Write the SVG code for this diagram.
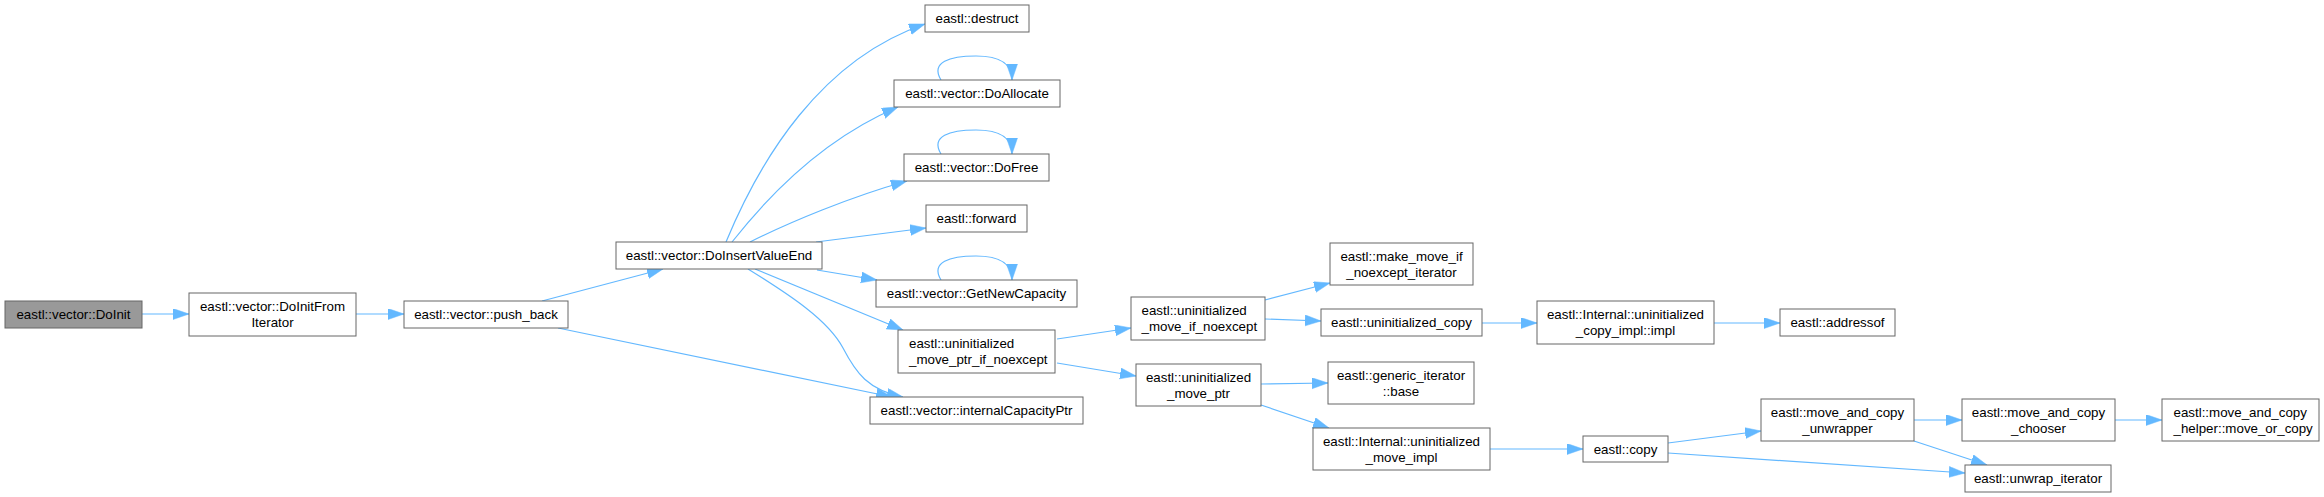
<svg xmlns="http://www.w3.org/2000/svg" width="2324" height="497" viewBox="0 0 2324 497">
<style>
.n rect{fill:#fff;stroke:#666;stroke-width:1}
.n text{font-family:"Liberation Sans",Arial,sans-serif;font-size:13.33px;fill:#000;text-anchor:middle}
.n text.l{text-anchor:start}
#n0 rect{fill:#999}
.e path{fill:none;stroke:#63b8ff;stroke-width:1.2}
</style>
<defs>
<marker id="a" markerUnits="userSpaceOnUse" markerWidth="17" markerHeight="12" refX="16" refY="5.5" orient="auto">
<path d="M0,0 L16,5.5 L0,11 z" fill="#63b8ff" stroke="#63b8ff" stroke-width="0.5"/>
</marker>
</defs>
<rect width="2324" height="497" fill="#fff"/>
<g class="e" id="edges">
<path marker-end="url(#a)" d="M142,314 L189,314"/>
<path marker-end="url(#a)" d="M356,314 L404,314"/>
<path marker-end="url(#a)" d="M542,301 L663,269"/>
<path marker-end="url(#a)" d="M558,328 L892,397"/>
<path marker-end="url(#a)" d="M748,269 C790,295 828,320 843,348 C856,373 868,390 903,397"/>
<path marker-end="url(#a)" d="M755,269 L903,330"/>
<path marker-end="url(#a)" d="M817,270 L877,280"/>
<path marker-end="url(#a)" d="M816,242 L926,228"/>
<path marker-end="url(#a)" d="M750,242 C790,222 850,197 907,181"/>
<path marker-end="url(#a)" d="M732,242 C765,200 820,140 898,107"/>
<path marker-end="url(#a)" d="M726,242 C760,160 820,60 925,24"/>
<path marker-end="url(#a)" d="M941,80 C930,62 950,56 976,56 C998,56 1012,62 1012,80"/>
<path marker-end="url(#a)" d="M941,154 C930,136 950,130 976,130 C998,130 1012,136 1012,154"/>
<path marker-end="url(#a)" d="M941,280 C930,262 950,256 976,256 C998,256 1012,262 1012,280"/>
<path marker-end="url(#a)" d="M1057,339 L1131,328"/>
<path marker-end="url(#a)" d="M1057,363 L1136,376"/>
<path marker-end="url(#a)" d="M1265,300 L1330,283"/>
<path marker-end="url(#a)" d="M1265,319 L1321,321"/>
<path marker-end="url(#a)" d="M1482,323 L1537,323"/>
<path marker-end="url(#a)" d="M1714,323 L1780,323"/>
<path marker-end="url(#a)" d="M1261,384 L1328,383"/>
<path marker-end="url(#a)" d="M1261,405 L1329,428"/>
<path marker-end="url(#a)" d="M1490,449 L1583,449"/>
<path marker-end="url(#a)" d="M1668,443 L1761,431"/>
<path marker-end="url(#a)" d="M1668,453 L1965,473"/>
<path marker-end="url(#a)" d="M1914,420 L1962,420"/>
<path marker-end="url(#a)" d="M2115,420 L2162,420"/>
<path marker-end="url(#a)" d="M1914,441 L1987,465"/>
</g>
<g class="n" id="n0"><rect x="5" y="301" width="137" height="27"/><text x="73.5" y="319.2">eastl::vector::DoInit</text></g>
<g class="n" id="n1"><rect x="189" y="293" width="167" height="43"/><text x="272.5" y="311.4">eastl::vector::DoInitFrom</text><text x="272.5" y="327">Iterator</text></g>
<g class="n" id="n2"><rect x="404" y="301" width="164" height="27"/><text x="486" y="319.2">eastl::vector::push_back</text></g>
<g class="n" id="n3"><rect x="616" y="242" width="206" height="27"/><text x="719" y="260.2">eastl::vector::DoInsertValueEnd</text></g>
<g class="n" id="n4"><rect x="925" y="5" width="104" height="27"/><text x="977" y="23.2">eastl::destruct</text></g>
<g class="n" id="n5"><rect x="894" y="80" width="166" height="27"/><text x="977" y="98.2">eastl::vector::DoAllocate</text></g>
<g class="n" id="n6"><rect x="904" y="154" width="145" height="27"/><text x="976.5" y="172.2">eastl::vector::DoFree</text></g>
<g class="n" id="n7"><rect x="926" y="205" width="101" height="27"/><text x="976.5" y="223.2">eastl::forward</text></g>
<g class="n" id="n8"><rect x="876" y="280" width="201" height="27"/><text x="976.5" y="298.2">eastl::vector::GetNewCapacity</text></g>
<g class="n" id="n9"><rect x="898" y="330" width="157" height="43"/><text class="l" x="909" y="348.4">eastl::uninitialized</text><text class="l" x="909" y="364">_move_ptr_if_noexcept</text></g>
<g class="n" id="n10"><rect x="870" y="397" width="213" height="27"/><text x="976.5" y="415.2">eastl::vector::internalCapacityPtr</text></g>
<g class="n" id="n11"><rect x="1131" y="297" width="134" height="43"/><text class="l" x="1141.5" y="315.4">eastl::uninitialized</text><text class="l" x="1141.5" y="331">_move_if_noexcept</text></g>
<g class="n" id="n12"><rect x="1136" y="364" width="125" height="42"/><text x="1198.5" y="381.9">eastl::uninitialized</text><text x="1198.5" y="397.5">_move_ptr</text></g>
<g class="n" id="n13"><rect x="1330" y="243" width="143" height="42"/><text x="1401.5" y="260.9">eastl::make_move_if</text><text x="1401.5" y="276.5">_noexcept_iterator</text></g>
<g class="n" id="n14"><rect x="1321" y="309" width="161" height="27"/><text x="1401.5" y="327.2">eastl::uninitialized_copy</text></g>
<g class="n" id="n15"><rect x="1328" y="362" width="146" height="42"/><text x="1401" y="379.9">eastl::generic_iterator</text><text x="1401" y="395.5">::base</text></g>
<g class="n" id="n16"><rect x="1313" y="428" width="177" height="42"/><text x="1401.5" y="445.9">eastl::Internal::uninitialized</text><text x="1401.5" y="461.5">_move_impl</text></g>
<g class="n" id="n17"><rect x="1537" y="301" width="177" height="43"/><text x="1625.5" y="319.4">eastl::Internal::uninitialized</text><text x="1625.5" y="335">_copy_impl::impl</text></g>
<g class="n" id="n18"><rect x="1780" y="309" width="115" height="27"/><text x="1837.5" y="327.2">eastl::addressof</text></g>
<g class="n" id="n19"><rect x="1583" y="436" width="85" height="26"/><text x="1625.5" y="453.7">eastl::copy</text></g>
<g class="n" id="n20"><rect x="1761" y="399" width="153" height="42"/><text x="1837.5" y="416.9">eastl::move_and_copy</text><text x="1837.5" y="432.5">_unwrapper</text></g>
<g class="n" id="n21"><rect x="1962" y="399" width="153" height="42"/><text x="2038.5" y="416.9">eastl::move_and_copy</text><text x="2038.5" y="432.5">_chooser</text></g>
<g class="n" id="n22"><rect x="2162" y="399" width="157" height="42"/><text class="l" x="2173.5" y="416.9">eastl::move_and_copy</text><text class="l" x="2173.5" y="432.5">_helper::move_or_copy</text></g>
<g class="n" id="n23"><rect x="1965" y="465" width="146" height="27"/><text x="2038" y="483.2">eastl::unwrap_iterator</text></g>
</svg>
